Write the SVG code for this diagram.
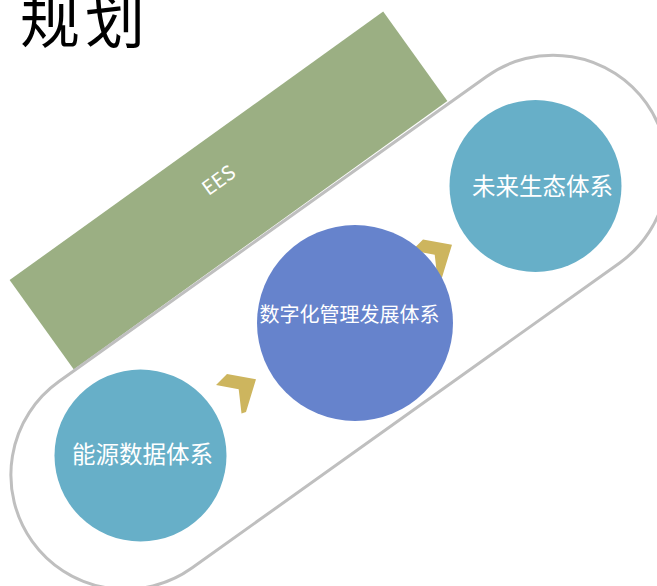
<svg xmlns="http://www.w3.org/2000/svg" width="657" height="586" viewBox="0 0 657 586">
<defs>
<style>
.lb{fill:#67afc8}
.db{fill:#6683cc}
.lbl{fill:#ffffff;font-family:"Noto Sans CJK SC","Noto Sans",sans-serif;text-anchor:middle}
.chev{fill:#cdb55e}
</style>
</defs>
<rect width="657" height="586" fill="#ffffff"/>
<g id="title">
<text x="20" y="42.5" font-family="Noto Sans CJK SC, sans-serif" font-size="60" letter-spacing="5" fill="#000000">规划</text>
</g>
<g id="ees" transform="translate(228.5,190.5) rotate(-35.7)">
<rect x="-230" y="-55" width="460" height="110" fill="#9baf83"/>
<text class="lbl" x="-2" y="-7" font-size="20" font-family="Noto Sans, sans-serif">EES</text>
</g>
<g id="capsule" transform="translate(339.25,322.25) rotate(-35.5)">
<rect x="-377.2" y="-114.5" width="754.4" height="229" rx="114.5" ry="114.5" fill="none" stroke="#bfbfbf" stroke-width="3"/>
</g>
<g id="connectors">
<polygon class="chev" points="216,385 227,374 256,379.3 246,412 241.5,413.5 238.7,389.3"/>
<polygon class="chev" points="412,250.4 423,239.4 452,244.7 442,277.4 437.5,278.9 434.7,254.7"/>
</g>
<g id="node1">
<circle class="lb" cx="140.5" cy="455.5" r="86"/>
<text class="lbl" x="142.5" y="463" font-size="23.5">能源数据体系</text>
</g>
<g id="node2">
<circle class="db" cx="355" cy="323" r="98"/>
<text class="lbl" x="349.5" y="321.5" font-size="20">数字化管理发展体系</text>
</g>
<g id="node3">
<circle class="lb" cx="535.5" cy="186" r="86"/>
<text class="lbl" x="542.5" y="195" font-size="23.5">未来生态体系</text>
</g>
</svg>
